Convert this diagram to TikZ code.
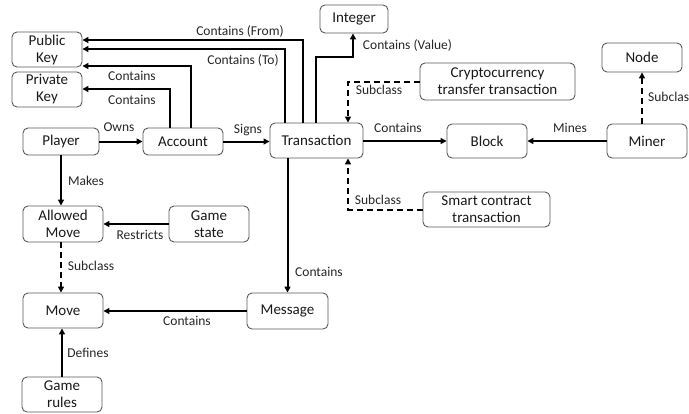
\documentclass[tikz,border=0pt]{standalone}
\usepackage{fontspec}
\setmainfont{Carlito}
\usetikzlibrary{arrows.meta}
\tikzset{
  box/.style={draw=black!65, line width=0.9pt, rounded corners=5pt, align=center, inner sep=0pt,
              font=\fontsize{15}{17}\selectfont, text=black!90},
  lbl/.style={inner sep=0pt, font=\fontsize{13.5}{15}\selectfont, text=black!85},
  arr/.style={line width=2pt, -{Triangle[length=6pt,width=6pt]}},
  darr/.style={arr, dash pattern=on 6pt off 4pt}
}
\begin{document}
\begin{tikzpicture}[x=1pt,y=-1pt]
\useasboundingbox (0,0) rectangle (689,413);
% nodes
\node[box, minimum width=70pt, minimum height=35pt] (pub) at (47,49.5) {Public\\Key};
\node[box, minimum width=70pt, minimum height=35pt] (priv) at (47,89.5) {Private\\Key};
\node[box, minimum width=76pt, minimum height=27pt] (player) at (61,141.5) {Player};
\node[box, minimum width=80pt, minimum height=27pt] (account) at (183,141.5) {Account};
\node[box, minimum width=93pt, minimum height=35pt] (trans) at (316.5,140.5) {Transaction};
\node[box, minimum width=68pt, minimum height=28pt] (integer) at (354,19) {Integer};
\node[box, minimum width=155pt, minimum height=37pt] (crypto) at (497.5,81.5) {Cryptocurrency\\transfer transaction};
\node[box, minimum width=80pt, minimum height=34pt] (block) at (487,141) {Block};
\node[box, minimum width=80pt, minimum height=34pt] (miner) at (647,141) {Miner};
\node[box, minimum width=80pt, minimum height=29pt] (nodeN) at (642,57.5) {Node};
\node[box, minimum width=80pt, minimum height=36pt] (allowed) at (63,224) {Allowed\\Move};
\node[box, minimum width=80pt, minimum height=36pt] (gamestate) at (209,224) {Game\\state};
\node[box, minimum width=80pt, minimum height=35pt] (move) at (63,310.5) {Move};
\node[box, minimum width=81pt, minimum height=36pt] (message) at (287.5,311) {Message};
\node[box, minimum width=80pt, minimum height=35pt] (rules) at (62,394.5) {Game\\rules};
\node[box, minimum width=127pt, minimum height=35pt] (smart) at (486.5,209.5) {Smart contract\\transaction};
% bend coordinates
\coordinate (cFrom) at (303,40);
\coordinate (cTo) at (285,49);
\coordinate (cAccA) at (191,66);
\coordinate (cAccB) at (170,89);
\coordinate (cValA) at (316,57);
\coordinate (cValB) at (353,57);
\coordinate (cCr) at (348,81);
\coordinate (cSm) at (348,209);
% connectors
\draw[arr] (trans.north -| cFrom) -- (cFrom) -- (pub.east |- cFrom);
\draw[arr] (trans.north -| cTo) -- (cTo) -- (pub.east |- cTo);
\draw[arr] (account.north -| cAccA) -- (cAccA) -- (pub.east |- cAccA);
\draw[arr] (account.north -| cAccB) -- (cAccB) -- (priv.east |- cAccB);
\draw[arr] (trans.north -| cValA) -- (cValA) -- (cValB) -- (integer.south -| cValB);
\draw[darr] (crypto.west) -- (crypto.west -| cCr) -- (trans.north -| cCr);
\draw[darr] (smart.west) -- (smart.west -| cSm) -- (trans.south -| cSm);
\draw[arr] (player.east) -- (account.west);
\draw[arr] (account.east) -- (trans.west |- account.east);
\draw[arr] (trans.east |- block.west) -- (block.west);
\draw[arr] (miner.west) -- (block.east);
\draw[darr] (miner.north -| nodeN.south) -- (nodeN.south);
\draw[arr] (trans.south -| message.north) -- (message.north);
\draw[arr] (message.west) -- (move.east |- message.west);
\draw[arr] (player.south) -- (allowed.north -| player.south);
\draw[arr] (gamestate.west) -- (allowed.east);
\draw[darr] (allowed.south -| player.south) -- (move.north -| player.south);
\draw[arr] (rules.north) -- (move.south -| rules.north);
% labels
\node[lbl] (lFrom) at (240,31) {Contains (From)};
\node[lbl] (lTo) at (243,60) {Contains (To)};
\node[lbl] (lAccA) at (132,76) {Contains};
\node[lbl] (lAccB) at (132,100) {Contains};
\node[lbl] (lOwns) at (119,127) {Owns};
\node[lbl] (lSigns) at (248,130) {Signs};
\node[lbl] (lVal) at (407.5,45) {Contains (Value)};
\node[lbl] (lCr) at (379,90) {Subclass};
\node[lbl] (lBlk) at (398,128) {Contains};
\node[lbl] (lMines) at (570,128) {Mines};
\node[lbl, anchor=west] (lNode) at (648,97) {Subclass};
\node[lbl] (lSm) at (378,200) {Subclass};
\node[lbl] (lMsg) at (319,272) {Contains};
\node[lbl] (lMakes) at (86,181) {Makes};
\node[lbl] (lRestr) at (140,235) {Restricts};
\node[lbl] (lSubA) at (91,266) {Subclass};
\node[lbl] (lMove) at (187,321) {Contains};
\node[lbl] (lDef) at (88,353) {Defines};
\end{tikzpicture}
\end{document}
